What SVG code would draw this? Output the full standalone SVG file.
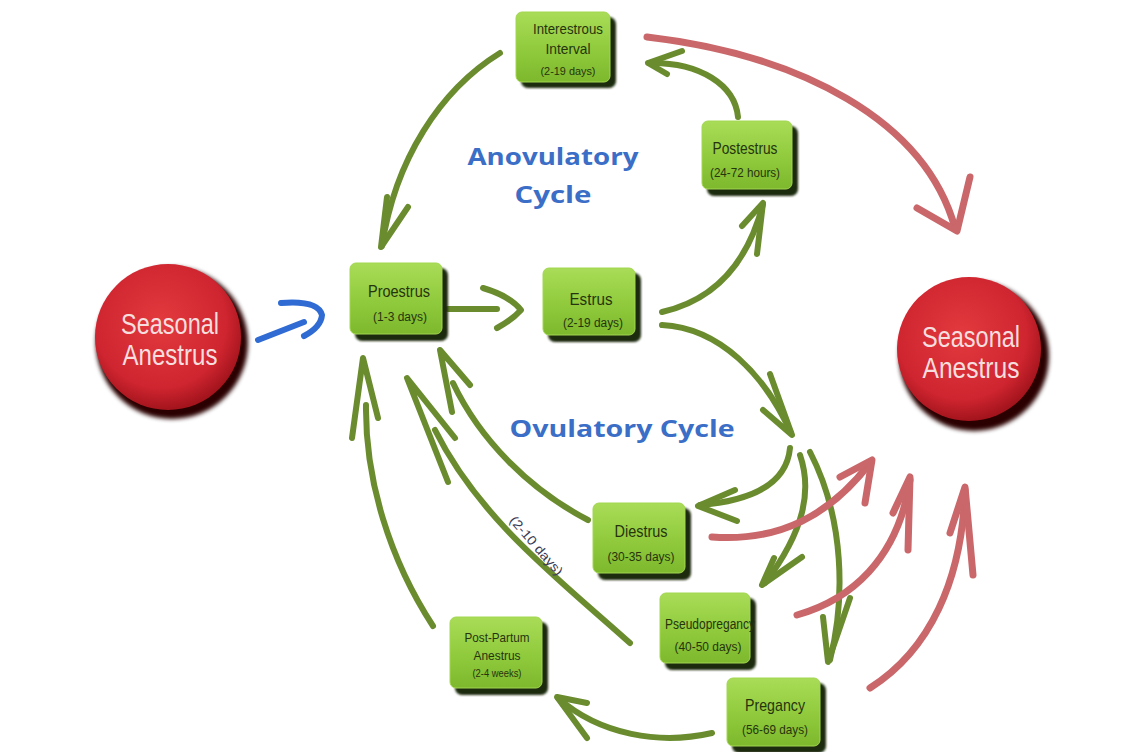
<svg xmlns="http://www.w3.org/2000/svg" width="1143" height="752" viewBox="0 0 1143 752">
<defs>
<linearGradient id="boxg" x1="0" y1="0" x2="0" y2="1">
<stop offset="0" stop-color="#a9dc58"/>
<stop offset="0.5" stop-color="#92cc3e"/>
<stop offset="1" stop-color="#7db82d"/>
</linearGradient>
<radialGradient id="redg" cx="0.45" cy="0.4" r="0.6">
<stop offset="0" stop-color="#e23a3e"/>
<stop offset="0.75" stop-color="#cf2530"/>
<stop offset="1" stop-color="#a3141c"/>
</radialGradient>
<filter id="blur1" x="-10%" y="-10%" width="120%" height="120%"><feGaussianBlur stdDeviation="1.2"/></filter>
<filter id="blur2" x="-10%" y="-10%" width="120%" height="120%"><feGaussianBlur stdDeviation="2"/></filter>
<style>
.shadow{fill:#1d2b08;filter:url(#blur1)}
.box{fill:url(#boxg);stroke:#a2d650;stroke-width:1}
.nt{font-family:"Liberation Sans",Arial,sans-serif;fill:#26340e;text-anchor:middle}
.ct{font-family:"Liberation Sans",Arial,sans-serif;fill:#f6dede;text-anchor:middle;font-size:29px}
.bt{font-family:"Open Sans","Liberation Sans",sans-serif;font-weight:700;fill:#3b6ec6;font-size:24px;text-anchor:middle}
.g{fill:none;stroke:#6a8c2f;stroke-width:6;stroke-linecap:round;stroke-linejoin:round}
.r{fill:none;stroke:#c9676a;stroke-width:7;stroke-linecap:round;stroke-linejoin:round}
.b{fill:none;stroke:#2f6bd3;stroke-width:6;stroke-linecap:round;stroke-linejoin:round}
</style>
</defs>
<rect width="1143" height="752" fill="#ffffff"/>

<g id="labels">
<text class="bt" x="553" y="165" textLength="171" lengthAdjust="spacingAndGlyphs">Anovulatory</text>
<text class="bt" x="553" y="203" textLength="77" lengthAdjust="spacingAndGlyphs">Cycle</text>
<text class="bt" x="622" y="437" textLength="225" lengthAdjust="spacingAndGlyphs">Ovulatory Cycle</text>
</g>

<g id="connectors">
<!-- blue -->
<path class="b" d="M258,340 L304,322"/>
<path class="b" d="M281,303 Q318,300 322,315 Q321,327 304,336"/>
<!-- Proestrus -> Estrus -->
<path class="g" d="M448,309 L497,309"/>
<path class="g" d="M483,288 Q510,296 521,310 Q512,320 497,328"/>
<!-- Estrus -> Postestrus -->
<path class="g" d="M662,312 C715,300 748,262 763,204"/>
<path class="g" d="M742,226 L763,203 L757,254"/>
<!-- Estrus -> ovulatory junction -->
<path class="g" d="M662,325 C720,328 765,375 791,433"/>
<path class="g" d="M770,374 L792,435 L763,410"/>
<!-- Postestrus -> Interestrous -->
<path class="g" d="M738,117 C735,85 700,62 649,63"/>
<path class="g" d="M682,51 L648,63 L667,74"/>
<!-- Interestrous -> Proestrus -->
<path class="g" d="M500,53 C440,90 395,160 382,246"/>
<path class="g" d="M387,197 L381,247 L408,207"/>
<!-- Post-Partum -> Proestrus -->
<path class="g" d="M433,626 C390,560 365,480 366,405"/>
<path class="g" d="M352,438 L363,358 L378,418"/>
<!-- Pseudopregancy -> Proestrus (2-10 days) -->
<path class="g" d="M630,643 C560,580 480,520 435,430"/>
<path class="g" d="M448,482 L407,378 L455,438"/>
<!-- Diestrus -> Proestrus -->
<path class="g" d="M588,520 C530,490 480,440 453,383"/>
<path class="g" d="M452,412 L440,350 L470,385"/>
<!-- junction -> Diestrus -->
<path class="g" d="M790,448 C787,480 760,500 700,505"/>
<path class="g" d="M735,490 L698,506 L737,521"/>
<!-- junction -> Pseudopregancy -->
<path class="g" d="M800,455 C812,490 805,530 765,583"/>
<path class="g" d="M774,558 L762,585 L802,557"/>
<!-- junction -> Pregancy -->
<path class="g" d="M810,452 C845,520 845,600 830,660"/>
<path class="g" d="M823,617 L828,662 L850,598"/>
<!-- Pregancy -> Post-Partum -->
<path class="g" d="M712,733 C660,745 600,735 558,698"/>
<path class="g" d="M587,703 L557,697 L587,738"/>
<!-- red -->
<path class="r" d="M647,37 C800,55 925,120 955,228"/>
<path class="r" d="M917,208 L957,231 L970,177"/>
<path class="r" d="M712,537 C780,542 830,515 870,463"/>
<path class="r" d="M840,477 L872,460 L865,503"/>
<path class="r" d="M797,615 C850,600 898,560 910,480"/>
<path class="r" d="M893,513 L910,477 L908,550"/>
<path class="r" d="M870,688 C930,650 962,580 965,490"/>
<path class="r" d="M950,533 L965,487 L973,575"/>
<text x="536" y="550" font-family="Liberation Sans, Arial, sans-serif" font-size="13" fill="#3a3a55" text-anchor="middle" transform="rotate(49 536 546)" textLength="74" lengthAdjust="spacingAndGlyphs">(2-10 days)</text>
</g>

<g id="seasonal-left">
<circle cx="172" cy="343" r="76" fill="#2a0606" filter="url(#blur2)"/>
<circle cx="168" cy="337" r="73" fill="url(#redg)"/>
<text class="ct" x="170" y="334" textLength="98" lengthAdjust="spacingAndGlyphs">Seasonal</text>
<text class="ct" x="170" y="365" textLength="95" lengthAdjust="spacingAndGlyphs">Anestrus</text>
</g>

<g id="seasonal-right">
<circle cx="974" cy="356" r="75" fill="#2a0606" filter="url(#blur2)"/>
<circle cx="969" cy="349" r="72" fill="url(#redg)"/>
<text class="ct" x="971" y="347" textLength="98" lengthAdjust="spacingAndGlyphs">Seasonal</text>
<text class="ct" x="971" y="378" textLength="97" lengthAdjust="spacingAndGlyphs">Anestrus</text>
</g>

<g id="interestrous">
<rect class="shadow" x="521" y="17" width="95" height="71" rx="7"/>
<rect class="box" x="516" y="12" width="94" height="70" rx="6"/>
<text class="nt" x="568" y="34" font-size="15" textLength="70" lengthAdjust="spacingAndGlyphs">Interestrous</text>
<text class="nt" x="568" y="54" font-size="15" textLength="45" lengthAdjust="spacingAndGlyphs">Interval</text>
<text class="nt" x="568" y="75" font-size="11" textLength="55" lengthAdjust="spacingAndGlyphs">(2-19 days)</text>
</g>

<g id="postestrus">
<rect class="shadow" x="707" y="126" width="91" height="70" rx="7"/>
<rect class="box" x="702" y="121" width="90" height="68" rx="6"/>
<text class="nt" x="745" y="154" font-size="16" textLength="65" lengthAdjust="spacingAndGlyphs">Postestrus</text>
<text class="nt" x="745" y="177" font-size="12" textLength="70" lengthAdjust="spacingAndGlyphs">(24-72 hours)</text>
</g>

<g id="proestrus">
<rect class="shadow" x="355" y="268" width="93" height="73" rx="7"/>
<rect class="box" x="350" y="263" width="92" height="71" rx="6"/>
<text class="nt" x="399" y="297" font-size="16" textLength="62" lengthAdjust="spacingAndGlyphs">Proestrus</text>
<text class="nt" x="400" y="321" font-size="12" textLength="54" lengthAdjust="spacingAndGlyphs">(1-3 days)</text>
</g>

<g id="estrus">
<rect class="shadow" x="548" y="273" width="93" height="69" rx="7"/>
<rect class="box" x="543" y="268" width="92" height="67" rx="6"/>
<text class="nt" x="591" y="305" font-size="16" textLength="43" lengthAdjust="spacingAndGlyphs">Estrus</text>
<text class="nt" x="593" y="327" font-size="12" textLength="60" lengthAdjust="spacingAndGlyphs">(2-19 days)</text>
</g>

<g id="diestrus">
<rect class="shadow" x="598" y="508" width="93" height="72" rx="7"/>
<rect class="box" x="593" y="503" width="92" height="70" rx="6"/>
<text class="nt" x="641" y="537" font-size="16" textLength="53" lengthAdjust="spacingAndGlyphs">Diestrus</text>
<text class="nt" x="641" y="561" font-size="12" textLength="67" lengthAdjust="spacingAndGlyphs">(30-35 days)</text>
</g>

<g id="pseudopregancy">
<rect class="shadow" x="665" y="598" width="91" height="72" rx="7"/>
<rect class="box" x="660" y="593" width="90" height="70" rx="6"/>
<text class="nt" x="710" y="629" font-size="14" textLength="90" lengthAdjust="spacingAndGlyphs">Pseudopregancy</text>
<text class="nt" x="708" y="651" font-size="12" textLength="67" lengthAdjust="spacingAndGlyphs">(40-50 days)</text>
</g>

<g id="post-partum">
<rect class="shadow" x="455" y="622" width="93" height="73" rx="7"/>
<rect class="box" x="450" y="617" width="92" height="71" rx="6"/>
<text class="nt" x="497" y="642" font-size="13" textLength="65" lengthAdjust="spacingAndGlyphs">Post-Partum</text>
<text class="nt" x="497" y="660" font-size="13" textLength="47" lengthAdjust="spacingAndGlyphs">Anestrus</text>
<text class="nt" x="497" y="677" font-size="10" textLength="49" lengthAdjust="spacingAndGlyphs">(2-4 weeks)</text>
</g>

<g id="pregancy">
<rect class="shadow" x="732" y="683" width="94" height="70" rx="7"/>
<rect class="box" x="727" y="678" width="93" height="68" rx="6"/>
<text class="nt" x="775" y="711" font-size="17" textLength="60" lengthAdjust="spacingAndGlyphs">Pregancy</text>
<text class="nt" x="775" y="734" font-size="13" textLength="66" lengthAdjust="spacingAndGlyphs">(56-69 days)</text>
</g>
</svg>
